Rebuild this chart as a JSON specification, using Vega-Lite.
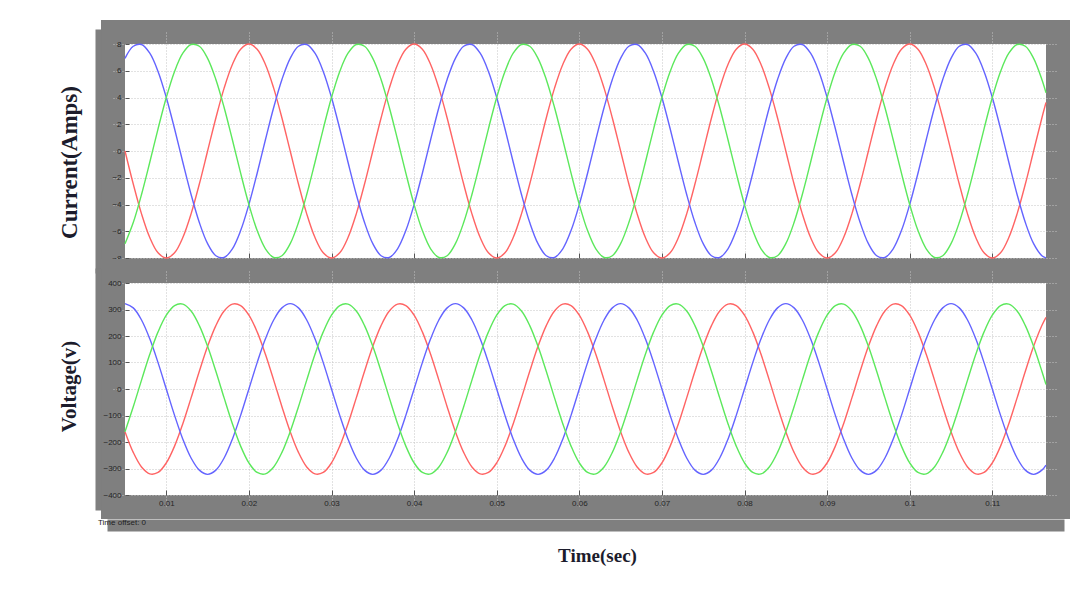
{
  "$schema": "https://vega.github.io/schema/vega-lite/v6.json",
  "background": "white",
  "padding": {"left": 45, "top": 20, "right": 5, "bottom": 5},
  "bounds": "flush",
  "spacing": 1,
  "title": {"text": "Time offset:  0", "orient": "bottom", "anchor": "start", "font": "Liberation Sans", "fontSize": 8, "fontWeight": "normal", "color": "#222222", "dx": 52, "dy": -62},
  "datasets": {
    "d": [
      {"t":0.005,"ia":0,"ib":6.93,"ic":-6.93,"va":-161,"vb":322,"vc":-161},
      {"t":0.006,"ia":-2.47,"ib":7.83,"ic":-5.35,"va":-239.3,"vb":306.2,"vc":-66.9},
      {"t":0.007,"ia":-4.7,"ib":7.96,"ic":-3.25,"va":-294.2,"vb":260.5,"vc":33.6},
      {"t":0.008,"ia":-6.47,"ib":7.31,"ic":-0.84,"va":-320.2,"vb":189.3,"vc":131},
      {"t":0.009,"ia":-7.61,"ib":5.95,"ic":1.66,"va":-315,"vb":99.5,"vc":215.5},
      {"t":0.010,"ia":-8,"ib":4,"ic":4,"va":-278.9,"vb":0,"vc":278.9},
      {"t":0.011,"ia":-7.61,"ib":1.66,"ic":5.95,"va":-215.5,"vb":-99.5,"vc":315},
      {"t":0.012,"ia":-6.47,"ib":-0.84,"ic":7.31,"va":-131,"vb":-189.3,"vc":320.2},
      {"t":0.013,"ia":-4.7,"ib":-3.25,"ic":7.96,"va":-33.6,"vb":-260.5,"vc":294.2},
      {"t":0.014,"ia":-2.47,"ib":-5.35,"ic":7.83,"va":66.9,"vb":-306.2,"vc":239.3},
      {"t":0.015,"ia":0,"ib":-6.93,"ic":6.93,"va":161,"vb":-322,"vc":161},
      {"t":0.016,"ia":2.47,"ib":-7.83,"ic":5.35,"va":239.3,"vb":-306.2,"vc":66.9},
      {"t":0.017,"ia":4.7,"ib":-7.96,"ic":3.25,"va":294.2,"vb":-260.5,"vc":-33.6},
      {"t":0.018,"ia":6.47,"ib":-7.31,"ic":0.84,"va":320.2,"vb":-189.3,"vc":-131},
      {"t":0.019,"ia":7.61,"ib":-5.95,"ic":-1.66,"va":315,"vb":-99.5,"vc":-215.5},
      {"t":0.020,"ia":8,"ib":-4,"ic":-4,"va":278.9,"vb":0,"vc":-278.9},
      {"t":0.021,"ia":7.61,"ib":-1.66,"ic":-5.95,"va":215.5,"vb":99.5,"vc":-315},
      {"t":0.022,"ia":6.47,"ib":0.84,"ic":-7.31,"va":131,"vb":189.3,"vc":-320.2},
      {"t":0.023,"ia":4.7,"ib":3.25,"ic":-7.96,"va":33.6,"vb":260.5,"vc":-294.2},
      {"t":0.024,"ia":2.47,"ib":5.35,"ic":-7.83,"va":-66.9,"vb":306.2,"vc":-239.3},
      {"t":0.025,"ia":0,"ib":6.93,"ic":-6.93,"va":-161,"vb":322,"vc":-161},
      {"t":0.026,"ia":-2.47,"ib":7.83,"ic":-5.35,"va":-239.3,"vb":306.2,"vc":-66.9},
      {"t":0.027,"ia":-4.7,"ib":7.96,"ic":-3.25,"va":-294.2,"vb":260.5,"vc":33.6},
      {"t":0.028,"ia":-6.47,"ib":7.31,"ic":-0.84,"va":-320.2,"vb":189.3,"vc":131},
      {"t":0.029,"ia":-7.61,"ib":5.95,"ic":1.66,"va":-315,"vb":99.5,"vc":215.5},
      {"t":0.030,"ia":-8,"ib":4,"ic":4,"va":-278.9,"vb":0,"vc":278.9},
      {"t":0.031,"ia":-7.61,"ib":1.66,"ic":5.95,"va":-215.5,"vb":-99.5,"vc":315},
      {"t":0.032,"ia":-6.47,"ib":-0.84,"ic":7.31,"va":-131,"vb":-189.3,"vc":320.2},
      {"t":0.033,"ia":-4.7,"ib":-3.25,"ic":7.96,"va":-33.6,"vb":-260.5,"vc":294.2},
      {"t":0.034,"ia":-2.47,"ib":-5.35,"ic":7.83,"va":66.9,"vb":-306.2,"vc":239.3},
      {"t":0.035,"ia":0,"ib":-6.93,"ic":6.93,"va":161,"vb":-322,"vc":161},
      {"t":0.036,"ia":2.47,"ib":-7.83,"ic":5.35,"va":239.3,"vb":-306.2,"vc":66.9},
      {"t":0.037,"ia":4.7,"ib":-7.96,"ic":3.25,"va":294.2,"vb":-260.5,"vc":-33.6},
      {"t":0.038,"ia":6.47,"ib":-7.31,"ic":0.84,"va":320.2,"vb":-189.3,"vc":-131},
      {"t":0.039,"ia":7.61,"ib":-5.95,"ic":-1.66,"va":315,"vb":-99.5,"vc":-215.5},
      {"t":0.040,"ia":8,"ib":-4,"ic":-4,"va":278.9,"vb":0,"vc":-278.9},
      {"t":0.041,"ia":7.61,"ib":-1.66,"ic":-5.95,"va":215.5,"vb":99.5,"vc":-315},
      {"t":0.042,"ia":6.47,"ib":0.84,"ic":-7.31,"va":131,"vb":189.3,"vc":-320.2},
      {"t":0.043,"ia":4.7,"ib":3.25,"ic":-7.96,"va":33.6,"vb":260.5,"vc":-294.2},
      {"t":0.044,"ia":2.47,"ib":5.35,"ic":-7.83,"va":-66.9,"vb":306.2,"vc":-239.3},
      {"t":0.045,"ia":0,"ib":6.93,"ic":-6.93,"va":-161,"vb":322,"vc":-161},
      {"t":0.046,"ia":-2.47,"ib":7.83,"ic":-5.35,"va":-239.3,"vb":306.2,"vc":-66.9},
      {"t":0.047,"ia":-4.7,"ib":7.96,"ic":-3.25,"va":-294.2,"vb":260.5,"vc":33.6},
      {"t":0.048,"ia":-6.47,"ib":7.31,"ic":-0.84,"va":-320.2,"vb":189.3,"vc":131},
      {"t":0.049,"ia":-7.61,"ib":5.95,"ic":1.66,"va":-315,"vb":99.5,"vc":215.5},
      {"t":0.050,"ia":-8,"ib":4,"ic":4,"va":-278.9,"vb":0,"vc":278.9},
      {"t":0.051,"ia":-7.61,"ib":1.66,"ic":5.95,"va":-215.5,"vb":-99.5,"vc":315},
      {"t":0.052,"ia":-6.47,"ib":-0.84,"ic":7.31,"va":-131,"vb":-189.3,"vc":320.2},
      {"t":0.053,"ia":-4.7,"ib":-3.25,"ic":7.96,"va":-33.6,"vb":-260.5,"vc":294.2},
      {"t":0.054,"ia":-2.47,"ib":-5.35,"ic":7.83,"va":66.9,"vb":-306.2,"vc":239.3},
      {"t":0.055,"ia":0,"ib":-6.93,"ic":6.93,"va":161,"vb":-322,"vc":161},
      {"t":0.056,"ia":2.47,"ib":-7.83,"ic":5.35,"va":239.3,"vb":-306.2,"vc":66.9},
      {"t":0.057,"ia":4.7,"ib":-7.96,"ic":3.25,"va":294.2,"vb":-260.5,"vc":-33.6},
      {"t":0.058,"ia":6.47,"ib":-7.31,"ic":0.84,"va":320.2,"vb":-189.3,"vc":-131},
      {"t":0.059,"ia":7.61,"ib":-5.95,"ic":-1.66,"va":315,"vb":-99.5,"vc":-215.5},
      {"t":0.060,"ia":8,"ib":-4,"ic":-4,"va":278.9,"vb":0,"vc":-278.9},
      {"t":0.061,"ia":7.61,"ib":-1.66,"ic":-5.95,"va":215.5,"vb":99.5,"vc":-315},
      {"t":0.062,"ia":6.47,"ib":0.84,"ic":-7.31,"va":131,"vb":189.3,"vc":-320.2},
      {"t":0.063,"ia":4.7,"ib":3.25,"ic":-7.96,"va":33.6,"vb":260.5,"vc":-294.2},
      {"t":0.064,"ia":2.47,"ib":5.35,"ic":-7.83,"va":-66.9,"vb":306.2,"vc":-239.3},
      {"t":0.065,"ia":0,"ib":6.93,"ic":-6.93,"va":-161,"vb":322,"vc":-161},
      {"t":0.066,"ia":-2.47,"ib":7.83,"ic":-5.35,"va":-239.3,"vb":306.2,"vc":-66.9},
      {"t":0.067,"ia":-4.7,"ib":7.96,"ic":-3.25,"va":-294.2,"vb":260.5,"vc":33.6},
      {"t":0.068,"ia":-6.47,"ib":7.31,"ic":-0.84,"va":-320.2,"vb":189.3,"vc":131},
      {"t":0.069,"ia":-7.61,"ib":5.95,"ic":1.66,"va":-315,"vb":99.5,"vc":215.5},
      {"t":0.070,"ia":-8,"ib":4,"ic":4,"va":-278.9,"vb":0,"vc":278.9},
      {"t":0.071,"ia":-7.61,"ib":1.66,"ic":5.95,"va":-215.5,"vb":-99.5,"vc":315},
      {"t":0.072,"ia":-6.47,"ib":-0.84,"ic":7.31,"va":-131,"vb":-189.3,"vc":320.2},
      {"t":0.073,"ia":-4.7,"ib":-3.25,"ic":7.96,"va":-33.6,"vb":-260.5,"vc":294.2},
      {"t":0.074,"ia":-2.47,"ib":-5.35,"ic":7.83,"va":66.9,"vb":-306.2,"vc":239.3},
      {"t":0.075,"ia":0,"ib":-6.93,"ic":6.93,"va":161,"vb":-322,"vc":161},
      {"t":0.076,"ia":2.47,"ib":-7.83,"ic":5.35,"va":239.3,"vb":-306.2,"vc":66.9},
      {"t":0.077,"ia":4.7,"ib":-7.96,"ic":3.25,"va":294.2,"vb":-260.5,"vc":-33.6},
      {"t":0.078,"ia":6.47,"ib":-7.31,"ic":0.84,"va":320.2,"vb":-189.3,"vc":-131},
      {"t":0.079,"ia":7.61,"ib":-5.95,"ic":-1.66,"va":315,"vb":-99.5,"vc":-215.5},
      {"t":0.080,"ia":8,"ib":-4,"ic":-4,"va":278.9,"vb":0,"vc":-278.9},
      {"t":0.081,"ia":7.61,"ib":-1.66,"ic":-5.95,"va":215.5,"vb":99.5,"vc":-315},
      {"t":0.082,"ia":6.47,"ib":0.84,"ic":-7.31,"va":131,"vb":189.3,"vc":-320.2},
      {"t":0.083,"ia":4.7,"ib":3.25,"ic":-7.96,"va":33.6,"vb":260.5,"vc":-294.2},
      {"t":0.084,"ia":2.47,"ib":5.35,"ic":-7.83,"va":-66.9,"vb":306.2,"vc":-239.3},
      {"t":0.085,"ia":0,"ib":6.93,"ic":-6.93,"va":-161,"vb":322,"vc":-161},
      {"t":0.086,"ia":-2.47,"ib":7.83,"ic":-5.35,"va":-239.3,"vb":306.2,"vc":-66.9},
      {"t":0.087,"ia":-4.7,"ib":7.96,"ic":-3.25,"va":-294.2,"vb":260.5,"vc":33.6},
      {"t":0.088,"ia":-6.47,"ib":7.31,"ic":-0.84,"va":-320.2,"vb":189.3,"vc":131},
      {"t":0.089,"ia":-7.61,"ib":5.95,"ic":1.66,"va":-315,"vb":99.5,"vc":215.5},
      {"t":0.090,"ia":-8,"ib":4,"ic":4,"va":-278.9,"vb":0,"vc":278.9},
      {"t":0.091,"ia":-7.61,"ib":1.66,"ic":5.95,"va":-215.5,"vb":-99.5,"vc":315},
      {"t":0.092,"ia":-6.47,"ib":-0.84,"ic":7.31,"va":-131,"vb":-189.3,"vc":320.2},
      {"t":0.093,"ia":-4.7,"ib":-3.25,"ic":7.96,"va":-33.6,"vb":-260.5,"vc":294.2},
      {"t":0.094,"ia":-2.47,"ib":-5.35,"ic":7.83,"va":66.9,"vb":-306.2,"vc":239.3},
      {"t":0.095,"ia":0,"ib":-6.93,"ic":6.93,"va":161,"vb":-322,"vc":161},
      {"t":0.096,"ia":2.47,"ib":-7.83,"ic":5.35,"va":239.3,"vb":-306.2,"vc":66.9},
      {"t":0.097,"ia":4.7,"ib":-7.96,"ic":3.25,"va":294.2,"vb":-260.5,"vc":-33.6},
      {"t":0.098,"ia":6.47,"ib":-7.31,"ic":0.84,"va":320.2,"vb":-189.3,"vc":-131},
      {"t":0.099,"ia":7.61,"ib":-5.95,"ic":-1.66,"va":315,"vb":-99.5,"vc":-215.5},
      {"t":0.100,"ia":8,"ib":-4,"ic":-4,"va":278.9,"vb":0,"vc":-278.9},
      {"t":0.101,"ia":7.61,"ib":-1.66,"ic":-5.95,"va":215.5,"vb":99.5,"vc":-315},
      {"t":0.102,"ia":6.47,"ib":0.84,"ic":-7.31,"va":131,"vb":189.3,"vc":-320.2},
      {"t":0.103,"ia":4.7,"ib":3.25,"ic":-7.96,"va":33.6,"vb":260.5,"vc":-294.2},
      {"t":0.104,"ia":2.47,"ib":5.35,"ic":-7.83,"va":-66.9,"vb":306.2,"vc":-239.3},
      {"t":0.105,"ia":0,"ib":6.93,"ic":-6.93,"va":-161,"vb":322,"vc":-161},
      {"t":0.106,"ia":-2.47,"ib":7.83,"ic":-5.35,"va":-239.3,"vb":306.2,"vc":-66.9},
      {"t":0.107,"ia":-4.7,"ib":7.96,"ic":-3.25,"va":-294.2,"vb":260.5,"vc":33.6},
      {"t":0.108,"ia":-6.47,"ib":7.31,"ic":-0.84,"va":-320.2,"vb":189.3,"vc":131},
      {"t":0.109,"ia":-7.61,"ib":5.95,"ic":1.66,"va":-315,"vb":99.5,"vc":215.5},
      {"t":0.110,"ia":-8,"ib":4,"ic":4,"va":-278.9,"vb":0,"vc":278.9},
      {"t":0.111,"ia":-7.61,"ib":1.66,"ic":5.95,"va":-215.5,"vb":-99.5,"vc":315},
      {"t":0.112,"ia":-6.47,"ib":-0.84,"ic":7.31,"va":-131,"vb":-189.3,"vc":320.2},
      {"t":0.113,"ia":-4.7,"ib":-3.25,"ic":7.96,"va":-33.6,"vb":-260.5,"vc":294.2},
      {"t":0.114,"ia":-2.47,"ib":-5.35,"ic":7.83,"va":66.9,"vb":-306.2,"vc":239.3},
      {"t":0.115,"ia":0,"ib":-6.93,"ic":6.93,"va":161,"vb":-322,"vc":161},
      {"t":0.116,"ia":2.47,"ib":-7.83,"ic":5.35,"va":239.3,"vb":-306.2,"vc":66.9},
      {"t":0.1165,"ia":3.63,"ib":-7.99,"ic":4.36,"va":270.1,"vb":-286.9,"vc":16.8}
    ]
  },
  "vconcat": [
    {
      "width": 945,
      "height": 238,
      "view": {"fill": "white", "stroke": "#7f7f7f", "strokeWidth": 24},
      "data": {"name": "d"},
      "transform": [{"fold": ["ia", "ib", "ic"], "as": ["phase", "value"]}],
      "encoding": {
        "x": {
          "field": "t", "type": "quantitative",
          "scale": {"domain": [0.005, 0.1165], "nice": false, "zero": false, "padding": 12},
          "axis": {"values": [0.01,0.02,0.03,0.04,0.05,0.06,0.07,0.08,0.09,0.1,0.11], "labels": false, "title": null, "offset": -12, "domain": false, "tickSize": -5, "tickColor": "#555555", "grid": true}
        },
        "color": {
          "field": "phase", "type": "nominal", "legend": null,
          "scale": {"domain": ["ia","ib","ic","va","vb","vc"], "range": ["#ff6464","#6464ff","#5ce85c","#ff6464","#6464ff","#5ce85c"]}
        }
      },
      "layer": [
        {
          "mark": {"type": "line", "interpolate": "catmull-rom", "strokeWidth": 1.4},
          "encoding": {
            "y": {
              "field": "value", "type": "quantitative",
              "scale": {"domain": [-8, 8], "nice": false, "zero": false, "padding": 12},
              "axis": {"orient": "left", "values": [-8,-6,-4,-2,0,2,4,6,8], "format": "d", "offset": -12, "domain": false, "tickSize": -4, "tickColor": "#555555", "labelPadding": 8, "grid": true,
                       "title": "Current(Amps)", "titleFontSize": 23, "titleX": -56, "titleY": 130, "titleAngle": -90, "titleBaseline": "middle", "titleAlign": "center"}
            }
          }
        },
        {
          "mark": {"type": "line", "interpolate": "catmull-rom", "strokeWidth": 1.4, "opacity": 0},
          "encoding": {
            "y": {
              "field": "value", "type": "quantitative",
              "axis": {"orient": "left", "offset": 15, "domain": true, "domainColor": "#7f7f7f", "domainWidth": 6, "domainCap": "square", "ticks": false, "labels": false, "grid": false, "title": null}
            }
          }
        }
      ],
      "resolve": {"axis": {"y": "independent"}}
    },
    {
      "width": 945,
      "height": 236,
      "view": {"fill": "white", "stroke": "#7f7f7f", "strokeWidth": 24},
      "data": {"name": "d"},
      "transform": [{"fold": ["va", "vb", "vc"], "as": ["phase", "value"]}],
      "encoding": {
        "color": {
          "field": "phase", "type": "nominal", "legend": null,
          "scale": {"domain": ["ia","ib","ic","va","vb","vc"], "range": ["#ff6464","#6464ff","#5ce85c","#ff6464","#6464ff","#5ce85c"]}
        }
      },
      "layer": [
        {
          "mark": {"type": "line", "interpolate": "catmull-rom", "strokeWidth": 1.4},
          "encoding": {
            "x": {
              "field": "t", "type": "quantitative",
              "scale": {"domain": [0.005, 0.1165], "nice": false, "zero": false, "padding": 12},
              "axis": {"orient": "bottom", "values": [0.01,0.02,0.03,0.04,0.05,0.06,0.07,0.08,0.09,0.1,0.11], "format": "~g", "offset": -12, "domain": false, "tickSize": -5, "tickColor": "#555555", "labelPadding": 9, "grid": true,
                       "title": "Time(sec)", "titleX": 484, "titleY": 66, "titleAlign": "center", "titleBaseline": "alphabetic", "titleFontSize": 19}
            },
            "y": {
              "field": "value", "type": "quantitative",
              "scale": {"domain": [-400, 400], "nice": false, "zero": false, "padding": 12},
              "axis": {"orient": "left", "values": [-400,-300,-200,-100,0,100,200,300,400], "format": "d", "offset": -12, "domain": false, "tickSize": -4, "tickColor": "#555555", "labelPadding": 8, "grid": true,
                       "title": "Voltage(v)", "titleFontSize": 21, "titleX": -56, "titleY": 115, "titleAngle": -90, "titleBaseline": "middle", "titleAlign": "center"}
            }
          }
        },
        {
          "mark": {"type": "line", "interpolate": "catmull-rom", "strokeWidth": 1.4, "opacity": 0},
          "encoding": {
            "x": {
              "field": "t", "type": "quantitative",
              "axis": {"orient": "bottom", "offset": 18, "domain": true, "domainColor": "#7f7f7f", "domainWidth": 12, "domainCap": "square", "ticks": false, "labels": false, "grid": false, "title": null}
            },
            "y": {
              "field": "value", "type": "quantitative",
              "axis": {"orient": "left", "offset": 15, "domain": true, "domainColor": "#7f7f7f", "domainWidth": 6, "domainCap": "square", "ticks": false, "labels": false, "grid": false, "title": null}
            }
          }
        }
      ],
      "resolve": {"axis": {"x": "independent", "y": "independent"}}
    }
  ],
  "config": {
    "axis": {
      "labelFont": "Liberation Sans", "labelFontSize": 8, "labelColor": "#262626",
      "gridColor": "#c4c4c4", "gridDash": [1, 2], "gridWidth": 1, "gridOpacity": 1,
      "titleFont": "Liberation Serif", "titleFontSize": 21, "titleFontWeight": "bold", "titleColor": "#1c1c2c"
    }
  }
}
